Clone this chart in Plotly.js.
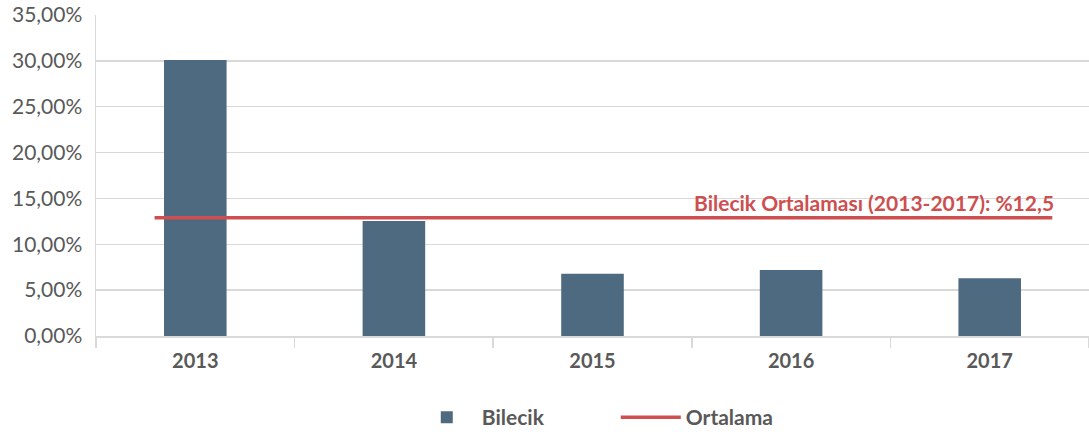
<!DOCTYPE html>
<html>
<head>
<meta charset="utf-8">
<script src="https://cdn.plot.ly/plotly-3.0.1.min.js"></script>
<style>html,body{margin:0;padding:0;background:#fff;}#chart{width:1089px;height:432px;}</style>
</head>
<body>
<div id="chart"></div>
<script>
const years = ['2013', '2014', '2015', '2016', '2017'];
const bilecik = [30.1, 12.55, 6.8, 7.2, 6.3];
const averageValue = 12.9;
const averageSpan = [-0.205, 4.315];
const averageLabel = 'Bilecik Ortalaması (2013-2017): %12,5';
const yTicks = [0, 5, 10, 15, 20, 25, 30, 35];
const yTickText = ['0,00%', '5,00%', '10,00%', '15,00%', '20,00%', '25,00%', '30,00%', '35,00%'];

const barColor = '#4e6a80';
const redColor = '#cd4f4f';
const fontFam = 'Lato, "Open Sans", sans-serif';

const traces = [
  {
    type: 'bar', name: 'Bilecik', x: years, y: bilecik,
    marker: {color: barColor}, hoverinfo: 'x+y'
  },
  {
    type: 'scatter', mode: 'lines', name: 'Ortalama',
    x: averageSpan, y: averageSpan.map(() => averageValue),
    xaxis: 'x2', line: {color: redColor, width: 3.5}
  }
];

const layout = {
  width: 1089, height: 432,
  margin: {l: 96, r: 0, t: 15, b: 96, autoexpand: false},
  paper_bgcolor: '#fff', plot_bgcolor: '#fff',
  font: {family: fontFam, color: '#595959'},
  bargap: 0.685,
  showlegend: true,
  legend: {
    orientation: 'h', x: 0.318, xanchor: 'left', y: -0.19, yanchor: 'top',
    font: {size: 21, color: '#595959', family: fontFam, weight: 'bold'},
    itemwidth: 60, traceorder: 'normal', entrywidth: 129
  },
  xaxis: {
    type: 'category', range: [-0.5, 4.5], automargin: false,
    showgrid: false, showline: true, linecolor: '#d9d9d9', linewidth: 1.5,
    ticks: 'outside', tickson: 'boundaries', ticklen: 10, tickcolor: '#d9d9d9', tickwidth: 1.5,
    ticklabelstandoff: 6,
    tickfont: {size: 20, color: '#595959', family: fontFam, weight: 'bold'},
    fixedrange: true
  },
  xaxis2: {
    overlaying: 'x', range: [-0.5, 4.5], visible: false, showgrid: false, fixedrange: true
  },
  yaxis: {
    range: [0, 35], tickvals: yTicks, ticktext: yTickText, automargin: false,
    showgrid: true, gridcolor: '#d9d9d9', gridwidth: 1.5,
    showline: true, linecolor: '#d9d9d9', linewidth: 1.5,
    zeroline: false, ticks: '', ticklabelstandoff: 8,
    tickfont: {size: 21, color: '#595959', family: fontFam},
    fixedrange: true
  },
  annotations: [{
    xref: 'x2', yref: 'y', x: averageSpan[1], y: averageValue,
    xanchor: 'right', yanchor: 'bottom', yshift: 1, xshift: 4,
    text: averageLabel, showarrow: false,
    font: {size: 21, color: redColor, family: fontFam, weight: 'bold'}
  }]
};

Plotly.newPlot('chart', traces, layout, {displayModeBar: false, staticPlot: true});
</script>
</body>
</html>
